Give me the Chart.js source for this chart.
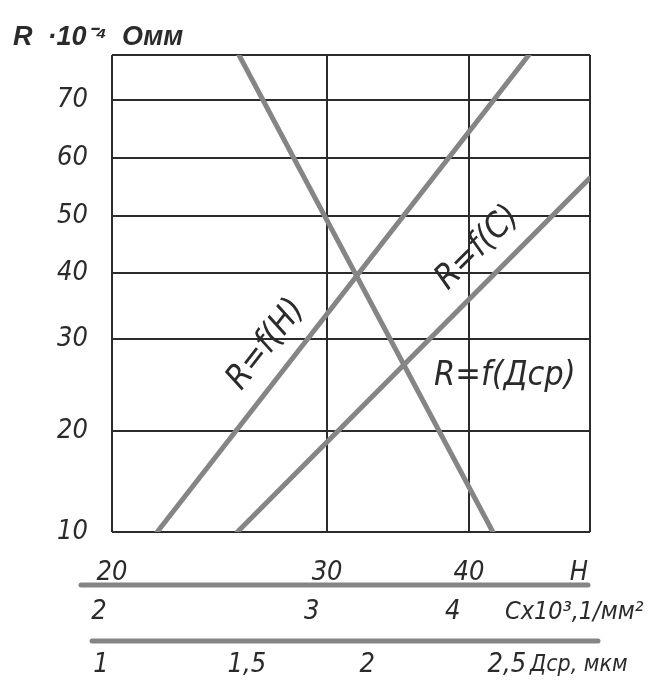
<!DOCTYPE html>
<html lang="ru">
<head>
  <meta charset="UTF-8"/>
  <title>R = f(H), f(C), f(Дср)</title>
  <script src="https://cdn.jsdelivr.net/npm/chart.js"></script>
  <style>
    html, body { margin: 0; padding: 0; background: #fff; }
    #wrap { width: 654px; height: 681px; }
  </style>
</head>
<body>
  <div id="wrap"><canvas id="chart" width="654" height="681"></canvas></div>

  <script>
    // values
    const rTicks = [10, 20, 30, 40, 50, 60, 70];
    const hTicks = [20, 30, 40];
    const cTicks = [2, 3, 4];
    const dTicks = [1, 1.5, 2, 2.5];

    const seriesNames = ['R=f(H)', 'R=f(C)', 'R=f(Дср)'];
    const hPoints = [22.1, 44.3];
    const rByH = [10, 78];
    const cPoints = [2.65, 4.97];
    const rByC = [10, 56.5];
    const dPoints = [1.47, 2.45];
    const rByD = [78, 10];

    // the drawing's scales are spaced by hand: share of the plot length at each tick
    const rSpacing = [0, 0.212, 0.405, 0.543, 0.6625, 0.784, 0.906];
    const hSpacing = [0, 0.45, 0.747];
    const cSpacing = [-0.027, 0.418, 0.713];
    const dSpacing = [-0.023, 0.282, 0.534, 0.826];

    const FONT = "'Liberation Sans Narrow', 'DejaVu Sans Condensed', 'Liberation Sans', sans-serif";
    const INK = '#2b2b2b';
    const LINE = '#858585';
    const TICK_SIZE = 27;

    function toFrac(v, vals, fr) {
      let i = 0;
      while (i < vals.length - 2 && v > vals[i + 1]) i++;
      return fr[i] + (v - vals[i]) / (vals[i + 1] - vals[i]) * (fr[i + 1] - fr[i]);
    }
    function fromFrac(f, vals, fr) {
      let i = 0;
      while (i < fr.length - 2 && f > fr[i + 1]) i++;
      return vals[i] + (f - fr[i]) / (fr[i + 1] - fr[i]) * (vals[i + 1] - vals[i]);
    }

    const spacing = {
      y: [rTicks, rSpacing],
      xH: [hTicks, hSpacing],
      xC: [cTicks, cSpacing],
      xD: [dTicks, dSpacing]
    };
    const lo = id => fromFrac(0, ...spacing[id]);
    const hi = id => fromFrac(1, ...spacing[id]);

    // linear scale whose pixel spacing follows the hand drawn ticks
    class HandScale extends Chart.LinearScale {
      getPixelForValue(v) {
        if (v === null || v === undefined) return NaN;
        const [vals, fr] = spacing[this.id];
        return this.getPixelForDecimal(toFrac(v, vals, fr));
      }
      getValueForPixel(p) {
        const [vals, fr] = spacing[this.id];
        return fromFrac(this.getDecimalForPixel(p), vals, fr);
      }
    }
    HandScale.id = 'hand';
    HandScale.defaults = {};
    Chart.register(HandScale);

    const fmt = v => String(v).replace('.', ',');
    const tickFont = { family: FONT, size: TICK_SIZE, style: 'italic' };

    function bottomAxis(id, list, weight, height, padding, withGrid) {
      const edges = withGrid ? list.concat([hi(id)]) : list;
      return {
        type: 'hand', axis: 'x', position: 'bottom', weight,
        min: lo(id), max: hi(id),
        afterBuildTicks: s => { s.ticks = edges.map(v => ({ value: v })); },
        afterFit: s => { s.height = height; },
        grid: { display: withGrid, color: INK, lineWidth: 2, drawTicks: false },
        border: { display: false },
        ticks: {
          autoSkip: false, maxRotation: 0, minRotation: 0, padding,
          color: INK, font: tickFont,
          callback: v => list.includes(v) ? fmt(v) : ''
        }
      };
    }

    const bars = [
      { axis: 'xC', from: -31, to: -2 },
      { axis: 'xD', from: -20, to: 8 }
    ];
    const units = [
      { axis: 'xH', text: 'H', align: 'right', dx: -2, size: TICK_SIZE },
      { axis: 'xC', text: 'Cx10³,1/мм²', align: 'left', dx: -85, size: 25 },
      { axis: 'xD', text: 'Дср, мкм', align: 'left', dx: -60, size: 23 }
    ];
    const nameStyle = [
      { t: 0.354, off: 29 },
      { t: 0.743, off: 30 },
      { t: 0.675, dx: 24 }
    ];

    const decor = {
      id: 'decor',
      afterDraw(chart) {
        const ctx = chart.ctx;
        ctx.save();
        ctx.strokeStyle = LINE;
        ctx.lineWidth = 5;
        ctx.lineCap = 'round';
        bars.forEach(b => {
          const s = chart.scales[b.axis];
          ctx.beginPath();
          ctx.moveTo(s.left + b.from, s.top);
          ctx.lineTo(s.right + b.to, s.top);
          ctx.stroke();
        });

        ctx.fillStyle = INK;
        ctx.textBaseline = 'middle';
        units.forEach(u => {
          const s = chart.scales[u.axis];
          const y = s.top + s.options.ticks.padding + TICK_SIZE * 0.6;
          ctx.font = 'italic ' + u.size + 'px ' + FONT;
          ctx.textAlign = u.align;
          ctx.fillText(u.text, s.right + u.dx, y);
        });

        ctx.font = 'italic 34px ' + FONT;
        chart.data.datasets.forEach((ds, i) => {
          const pts = chart.getDatasetMeta(i).data;
          const p0 = pts[0], p1 = pts[1];
          const st = nameStyle[i];
          const x = p0.x + (p1.x - p0.x) * st.t;
          const y = p0.y + (p1.y - p0.y) * st.t;
          ctx.save();
          ctx.translate(x, y);
          if (st.dx === undefined) {
            ctx.rotate(Math.atan2(p1.y - p0.y, p1.x - p0.x));
            ctx.textAlign = 'center';
            ctx.fillText(ds.label, 0, -st.off);
          } else {
            ctx.textAlign = 'left';
            ctx.fillText(ds.label, st.dx, 0);
          }
          ctx.restore();
        });
        ctx.restore();
      }
    };

    const lineStyle = {
      showLine: true, borderColor: LINE, borderWidth: 5,
      pointRadius: 0, fill: false, borderCapStyle: 'round', yAxisID: 'y'
    };

    new Chart(document.getElementById('chart'), {
      type: 'scatter',
      data: {
        datasets: [
          Object.assign({ label: seriesNames[0], xAxisID: 'xH',
            data: hPoints.map((x, i) => ({ x, y: rByH[i] })) }, lineStyle),
          Object.assign({ label: seriesNames[1], xAxisID: 'xC',
            data: cPoints.map((x, i) => ({ x, y: rByC[i] })) }, lineStyle),
          Object.assign({ label: seriesNames[2], xAxisID: 'xD',
            data: dPoints.map((x, i) => ({ x, y: rByD[i] })) }, lineStyle)
        ]
      },
      options: {
        responsive: false,
        animation: false,
        layout: { padding: { left: 13, right: 64, top: 0, bottom: 0 } },
        plugins: {
          legend: { display: false },
          tooltip: { enabled: false },
          title: {
            display: true, align: 'start', color: INK,
            text: 'R  ·10⁻⁴  Омм',
            font: { family: "'Liberation Sans', sans-serif", size: 27, style: 'italic', weight: 'bold' },
            padding: { top: 21, bottom: 1.6 }
          }
        },
        scales: {
          y: {
            type: 'hand', position: 'left',
            min: lo('y'), max: hi('y'),
            afterBuildTicks: s => { s.ticks = rTicks.concat([hi('y')]).map(v => ({ value: v })); },
            afterFit: s => { s.width = 99; },
            grid: { color: INK, lineWidth: 2, drawTicks: false },
            border: { display: false },
            ticks: { padding: 24, color: INK, font: tickFont,
              callback: v => rTicks.includes(v) ? fmt(v) : '' }
          },
          xH: bottomAxis('xH', hTicks, 0, 53, 25, true),
          xC: bottomAxis('xC', cTicks, 1, 56, 11, false),
          xD: bottomAxis('xD', dTicks, 2, 40, 8, false)
        }
      },
      plugins: [decor]
    });
  </script>
</body>
</html>
